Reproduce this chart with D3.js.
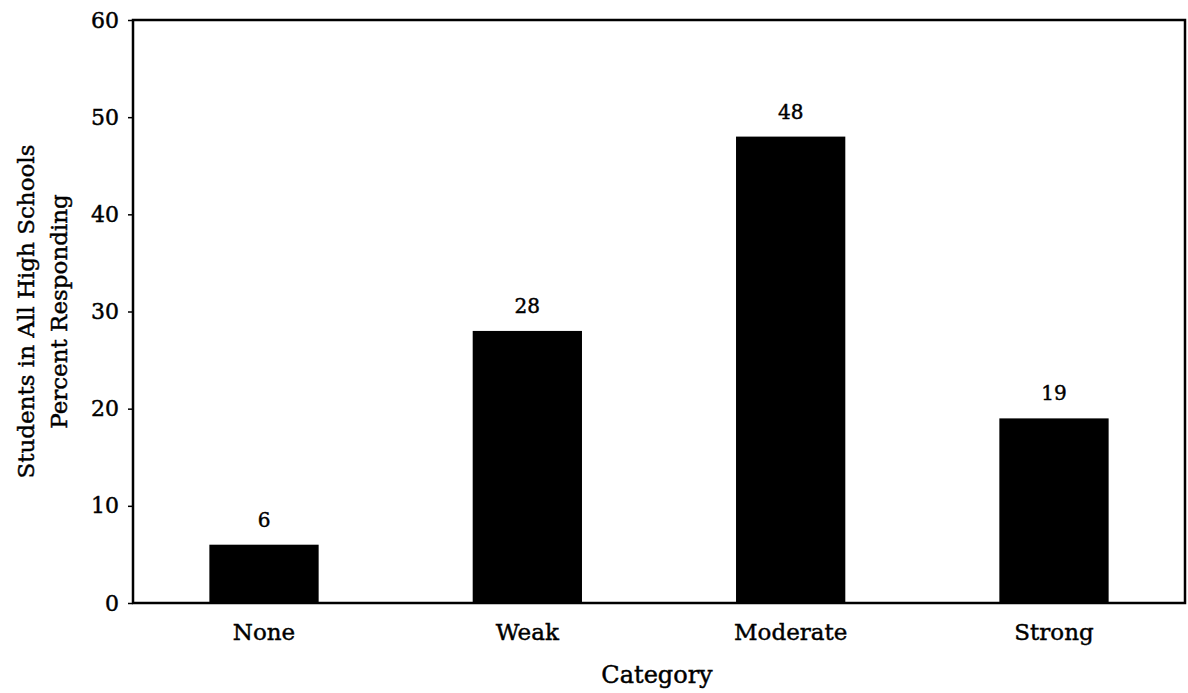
<!DOCTYPE html>
<html>
<head>
<meta charset="utf-8">
<script src="https://cdn.jsdelivr.net/npm/d3@7"></script>
<style>
  html, body { margin: 0; padding: 0; background: #fff; }
  svg text { font-family: "DejaVu Serif", "Liberation Serif", serif; fill: #000; stroke: #000; stroke-width: 0.45px; }
</style>
</head>
<body>
<svg id="chart" width="1188" height="693"></svg>
<script>
// Survey responses by category
const categories = ["None", "Weak", "Moderate", "Strong"];
const percents = [6, 28, 48, 19];
const yTicks = [0, 10, 20, 30, 40, 50, 60];
const yTitleLines = ["Students in All High Schools", "Percent Responding"];
const xTitle = "Category";

const svg = d3.select("#chart");
const margin = { top: 20, right: 3, bottom: 90, left: 133 };
const W = 1188, H = 693;
const x0 = margin.left, x1 = W - margin.right;
const y0 = H - margin.bottom, y1 = margin.top;

const x = d3.scaleBand().domain(categories).range([x0, x1])
  .paddingInner(0.585).paddingOuter(0.29);
const y = d3.scaleLinear().domain([0, 60]).range([y0, y1]);

// plot frame
svg.append("rect")
  .attr("x", x0).attr("y", y1)
  .attr("width", x1 - x0).attr("height", y0 - y1)
  .attr("fill", "none").attr("stroke", "#000").attr("stroke-width", 2.5);

// y axis
const yAxis = svg.append("g")
  .attr("transform", `translate(${x0},0)`)
  .call(d3.axisLeft(y).tickValues(yTicks).tickSize(5).tickPadding(9));
yAxis.select(".domain").remove();
yAxis.selectAll(".tick line").attr("stroke", "#000").attr("stroke-width", 1.5);
yAxis.selectAll(".tick text")
  .style("font-family", '"DejaVu Serif", serif')
  .style("font-size", "22px").attr("fill", "#000");

// x axis labels
const xAxis = svg.append("g")
  .attr("transform", `translate(0,${y0})`)
  .call(d3.axisBottom(x).tickSize(0).tickPadding(21));
xAxis.select(".domain").remove();
xAxis.selectAll(".tick text")
  .style("font-family", '"DejaVu Serif", serif')
  .style("font-size", "23px").attr("fill", "#000");

// bars
svg.append("g").selectAll("rect")
  .data(categories)
  .join("rect")
  .attr("x", d => x(d))
  .attr("width", x.bandwidth())
  .attr("y", (d, i) => y(percents[i]))
  .attr("height", (d, i) => y(0) - y(percents[i]))
  .attr("fill", "#000");

// value labels
svg.append("g").selectAll("text")
  .data(categories)
  .join("text")
  .attr("x", d => x(d) + x.bandwidth() / 2)
  .attr("y", (d, i) => y(percents[i]) - 18)
  .attr("text-anchor", "middle")
  .style("font-size", "20px")
  .text((d, i) => percents[i]);

// y title (two lines)
const yt = svg.append("text")
  .attr("transform", `translate(34,${(y0 + y1) / 2}) rotate(-90)`)
  .attr("text-anchor", "middle")
  .style("font-size", "23px");
yTitleLines.forEach((t, i) => {
  yt.append("tspan").attr("x", 0).attr("dy", i === 0 ? 0 : 33).text(t);
});

// x title
svg.append("text")
  .attr("x", (x0 + x1) / 2 - 2)
  .attr("y", 683)
  .attr("text-anchor", "middle")
  .style("font-size", "24px")
  .text(xTitle);
</script>
</body>
</html>
